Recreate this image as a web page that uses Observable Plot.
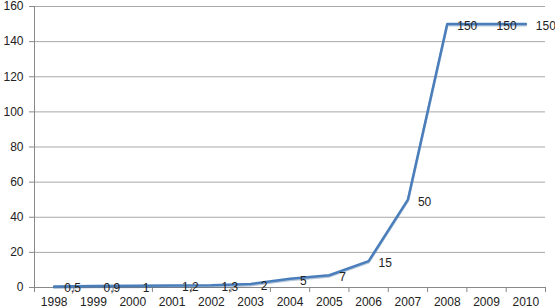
<!DOCTYPE html>
<html>
<head>
<meta charset="utf-8">
<script src="https://cdn.jsdelivr.net/npm/d3@7"></script>
<script src="https://cdn.jsdelivr.net/npm/@observablehq/plot@0.6"></script>
<style>
  html, body { margin: 0; padding: 0; background: #fff; }
  #chart { width: 555px; height: 308px; }
</style>
</head>
<body>
<div id="chart"></div>
<script>
const years = [1998, 1999, 2000, 2001, 2002, 2003, 2004, 2005, 2006, 2007, 2008, 2009, 2010];
const values = [0.5, 0.9, 1, 1.2, 1.3, 2, 5, 7, 15, 50, 150, 150, 150];
const labels = ["0,5", "0,9", "1", "1,2", "1,3", "2", "5", "7", "15", "50", "150", "150", "150"];
const yTicks = [0, 20, 40, 60, 80, 100, 120, 140, 160];

const data = years.map((y, i) => ({year: y, value: values[i], label: labels[i]}));
const boundaries = years.map(y => y - 0.5).concat([years[years.length - 1] + 0.5]);

const chart = Plot.plot({
  width: 555,
  height: 308,
  marginLeft: 34,
  marginRight: 10,
  marginTop: 6,
  marginBottom: 21,
  style: {fontFamily: "Liberation Sans, Arial, sans-serif", fontSize: "12px", color: "#222", background: "#fff"},
  x: {type: "linear", domain: [years[0] - 0.5, years[years.length - 1] + 0.5]},
  y: {domain: [0, 160]},
  marks: [
    Plot.ruleY(yTicks.slice(1), {stroke: "#a8a8a8", strokeWidth: 1, strokeOpacity: 1}),
    Plot.ruleY([0], {stroke: "#888", strokeWidth: 1}),
    Plot.ruleX([years[0] - 0.5], {stroke: "#888", strokeWidth: 1}),
    Plot.axisY({ticks: yTicks, tickSize: 5, tickPadding: 6, stroke: "#888", label: null, fontSize: 12, fill: "#222"}),
    Plot.axisX({ticks: boundaries, tickSize: 5, tickFormat: () => "", stroke: "#888", label: null}),
    Plot.axisX({ticks: years, tickSize: 0, tickPadding: 10, tickFormat: d => String(d), label: null, fontSize: 12, fill: "#222"}),
    Plot.line(data, {x: "year", y: "value", stroke: "#2f5d95", strokeWidth: 2.5, strokeOpacity: 0.35, dy: 1.2}),
    Plot.line(data, {x: "year", y: "value", stroke: "#4a7ebb", strokeWidth: 2.5}),
    Plot.text(data, {x: "year", y: "value", text: "label", textAnchor: "start", dx: 10, dy: 2, fontSize: 12, fill: "#222"})
  ]
});
document.getElementById("chart").appendChild(chart);
</script>
</body>
</html>
